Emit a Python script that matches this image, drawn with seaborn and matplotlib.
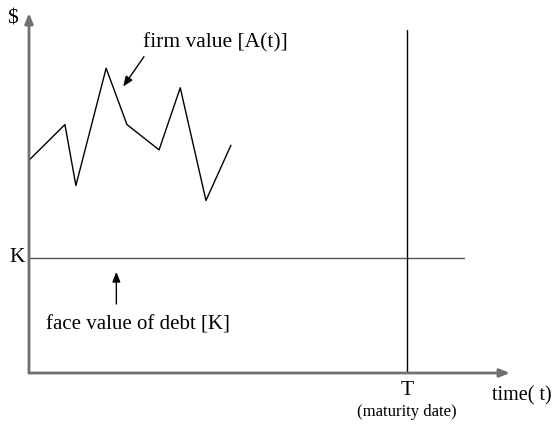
import matplotlib
matplotlib.use("Agg")
import matplotlib.pyplot as plt
import seaborn as sns
import pandas as pd

# ---- data ----
time_pts = [0.0, 0.95, 1.24, 2.04, 2.59, 3.44, 4.0, 4.68, 5.34]
firm_value = [185, 216, 163, 265, 216, 194, 248, 150, 198]
K_value = 100
T_value = 10
x_max = 12.72
y_max = 313
k_line_end = 11.5
t_line_top = 298

sns.set_theme(style="white")
plt.rcParams['font.family'] = ['Liberation Serif', 'DejaVu Serif']

fig = plt.figure(figsize=(5.54, 4.25), dpi=100)
ax = fig.add_axes([29/554, (425-373)/425, 481/554, 360/425])
ax.set_xlim(0, x_max)
ax.set_ylim(0, y_max)
ax.axis('off')

df = pd.DataFrame({"t": time_pts, "A": firm_value})
sns.lineplot(data=df, x="t", y="A", ax=ax, color="black", lw=1.0, sort=False)

# K line and maturity line
ax.plot([0, k_line_end], [K_value, K_value], color="#555555", lw=1.0)
ax.plot([T_value, T_value], [0, t_line_top], color="black", lw=1.0)

# axes arrows
arrow_kw = dict(arrowstyle="-|>,head_length=0.5,head_width=0.2", color="#707070", lw=2.0,
                shrinkA=0, shrinkB=0)
ax.annotate("", xy=(x_max, 0), xytext=(0, 0), arrowprops=arrow_kw, annotation_clip=False)
ax.annotate("", xy=(0, y_max), xytext=(0, 0), arrowprops=arrow_kw, annotation_clip=False)

# annotations
small_arrow = dict(arrowstyle="-|>,head_length=0.5,head_width=0.2", color="black", lw=1.0,
                   shrinkA=0, shrinkB=0)
ax.annotate("", xy=(2.49, 249), xytext=(3.04, 275), arrowprops=small_arrow)
ax.annotate("", xy=(2.31, 88), xytext=(2.31, 60), arrowprops=small_arrow)

fs = 15.5
ax.text(3.02, 287, "firm value [A(t)]", fontsize=fs, ha="left", va="center", color="black")
ax.text(0.45, 41.7, "face value of debt [K]", fontsize=15, ha="left", va="center", color="black")
ax.text(-0.45, 308, "$", fontsize=fs, ha="center", va="center", color="black", clip_on=False)
ax.text(-0.32, K_value, "K", fontsize=fs, ha="center", va="center", color="black", clip_on=False)
ax.text(T_value, -15, "T", fontsize=fs, ha="center", va="center", color="black", clip_on=False)
ax.text(T_value, -34, "(maturity date)", fontsize=12, ha="center", va="center", color="black", clip_on=False)
ax.text(12.25, -20, "time( t)", fontsize=14.5, ha="left", va="center", color="black", clip_on=False)

fig.savefig("out.png", dpi=100, facecolor="white")
